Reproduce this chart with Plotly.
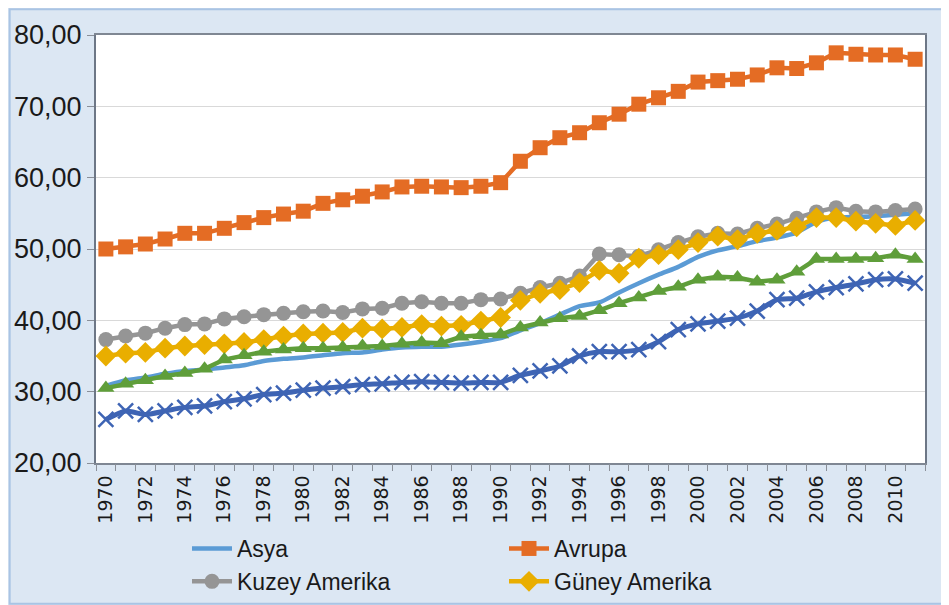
import plotly.graph_objects as go

years = list(range(1970, 2012))

asya = [30.8, 31.6, 32.0, 32.5, 32.9, 33.1, 33.4, 33.7, 34.3, 34.6, 34.8, 35.1, 35.4, 35.5, 35.9, 36.2, 36.3, 36.3, 36.6, 37.0, 37.5,
        38.6, 39.6, 40.8, 42.0, 42.5, 43.9, 45.2, 46.4, 47.5, 48.9, 49.8, 50.4, 51.1, 51.6, 52.3, 53.8, 54.4, 54.5, 54.6, 54.8, 55.0]
avrupa = [50.0, 50.3, 50.7, 51.4, 52.2, 52.2, 52.9, 53.7, 54.4, 54.9, 55.3, 56.4, 56.9, 57.4, 58.0, 58.7, 58.8, 58.7, 58.6, 58.8, 59.3,
          62.3, 64.2, 65.6, 66.3, 67.7, 68.9, 70.3, 71.2, 72.1, 73.4, 73.6, 73.8, 74.4, 75.4, 75.3, 76.1, 77.5, 77.3, 77.2, 77.2, 76.6]
kuzey = [37.3, 37.8, 38.2, 38.9, 39.4, 39.5, 40.2, 40.5, 40.8, 41.0, 41.2, 41.3, 41.1, 41.6, 41.7, 42.4, 42.6, 42.4, 42.4, 42.9, 43.0,
         43.8, 44.6, 45.2, 46.2, 49.3, 49.2, 49.0, 49.9, 50.9, 51.7, 52.2, 52.1, 52.9, 53.5, 54.3, 55.2, 55.8, 55.3, 55.2, 55.4, 55.6]
guney = [35.0, 35.4, 35.5, 36.1, 36.4, 36.6, 36.7, 36.9, 37.3, 37.8, 38.1, 38.2, 38.3, 38.9, 38.8, 39.0, 39.4, 39.2, 39.3, 39.9, 40.4,
         42.8, 43.8, 44.3, 45.3, 47.0, 46.6, 48.7, 49.2, 49.9, 50.9, 51.8, 51.3, 52.2, 52.6, 53.1, 54.4, 54.4, 53.9, 53.6, 53.3, 54.0]
seri5 = [30.5, 31.1, 31.6, 32.2, 32.6, 33.2, 34.5, 35.1, 35.6, 35.9, 36.1, 36.1, 36.2, 36.4, 36.4, 36.7, 36.9, 36.8, 37.7, 37.9, 38.0,
         39.0, 39.7, 40.3, 40.6, 41.4, 42.4, 43.2, 44.1, 44.7, 45.7, 46.1, 46.0, 45.4, 45.7, 46.8, 48.6, 48.6, 48.6, 48.7, 49.2, 48.6]
seri6 = [26.1, 27.3, 26.8, 27.3, 27.8, 28.0, 28.6, 29.0, 29.6, 29.8, 30.2, 30.5, 30.7, 31.0, 31.1, 31.3, 31.4, 31.3, 31.2, 31.3, 31.3,
         32.3, 32.9, 33.6, 35.0, 35.6, 35.6, 35.9, 37.0, 38.7, 39.5, 39.9, 40.3, 41.3, 42.9, 43.1, 44.0, 44.6, 45.1, 45.7, 45.8, 45.2]

label_years = list(range(1970, 2012, 2))
y_ticks = [20, 30, 40, 50, 60, 70, 80]

fig = go.Figure()

fig.add_trace(go.Scatter(x=years, y=asya, name="Asya", mode="lines",
                         line=dict(color="#5b9bd5", width=4.5, shape="spline", smoothing=0.6)))
fig.add_trace(go.Scatter(x=years, y=avrupa, name="Avrupa", mode="lines+markers",
                         line=dict(color="#e46c24", width=4.5),
                         marker=dict(symbol="square", size=15, color="#e46c24")))
fig.add_trace(go.Scatter(x=years, y=kuzey, name="Kuzey Amerika", mode="lines+markers",
                         line=dict(color="#959595", width=4.5),
                         marker=dict(symbol="circle", size=15, color="#959595")))
fig.add_trace(go.Scatter(x=years, y=guney, name="Güney Amerika", mode="lines+markers",
                         line=dict(color="#e9ae00", width=4.5),
                         marker=dict(symbol="diamond", size=16, color="#e9ae00")))
fig.add_trace(go.Scatter(x=years, y=seri5, name="Seri 5", mode="lines+markers", showlegend=False,
                         line=dict(color="#5f9e3a", width=4.5),
                         marker=dict(symbol="triangle-up", size=15, color="#5f9e3a")))
fig.add_trace(go.Scatter(x=years, y=seri6, name="Seri 6", mode="lines+markers", showlegend=False,
                         line=dict(color="#3e64b4", width=5, shape="spline", smoothing=0.6),
                         marker=dict(symbol="x-thin", size=15, color="#3e64b4",
                                     line=dict(width=2.5, color="#3e64b4"))))

# invisible trace on the overlay axis so that its tick marks are drawn
fig.add_trace(go.Scatter(x=[years[0]], y=[y_ticks[0]], xaxis="x2", mode="markers",
                         marker=dict(opacity=0), showlegend=False, hoverinfo="skip"))

xr = [years[0] - 0.5, years[-1] + 0.5]
W, H = 941, 597
L, R, T, B = 88, 24, 27, 142
pw, ph = W - L - R, H - T - B
fig.update_layout(
    width=W, height=H,
    margin=dict(l=L, r=R, t=T, b=B, autoexpand=False),
    paper_bgcolor="#dce7f3",
    plot_bgcolor="#ffffff",
    separators=",.",
    font=dict(family="Liberation Sans, Arial", color="#1a1a1a"),
    xaxis=dict(range=xr, tickmode="array", tickvals=label_years, ticktext=[str(y) for y in label_years],
               tickangle=-90, ticks="", showgrid=False, zeroline=False, ticklabelstandoff=3,
               tickfont=dict(family="DejaVu Sans", size=19, color="#1a1a1a"),
               showline=True, linecolor="#7f8793", linewidth=1.5, mirror=True),
    xaxis2=dict(range=xr, overlaying="x", side="bottom", tickmode="linear", tick0=xr[0], dtick=1,
                ticks="outside", ticklen=7, tickcolor="#8a8f98", tickwidth=1.2,
                showticklabels=False, showgrid=False, zeroline=False),
    yaxis=dict(range=[20, 80], tickvals=y_ticks, tickformat=".2f",
               showgrid=True, gridcolor="#d9d9d9", gridwidth=1.2, zeroline=False,
               ticks="outside", ticklen=7, tickcolor="#8a8f98",
               tickfont=dict(family="Liberation Sans, Arial", size=27, color="#1a1a1a"),
               showline=True, linecolor="#6d7786", linewidth=2, mirror=True),
    legend=dict(orientation="h", x=(187 - 8 - L) / pw, xanchor="left", y=-(527 - 8 - (T + ph)) / ph, yanchor="top",
                entrywidth=262, entrywidthmode="pixels", bgcolor="rgba(0,0,0,0)",
                font=dict(family="Liberation Sans, Arial", size=23, color="#1a1a1a"),
                tracegroupgap=0, itemwidth=40),
    shapes=[dict(type="rect", xref="paper", yref="paper",
                 x0=-L / pw + 0.002, x1=1 + R / pw - 0.002, y0=-B / ph + 0.003, y1=1 + T / ph - 0.003,
                 line=dict(color="#a9c4e4", width=2), layer="below")],
)

fig.write_html("out.html")
